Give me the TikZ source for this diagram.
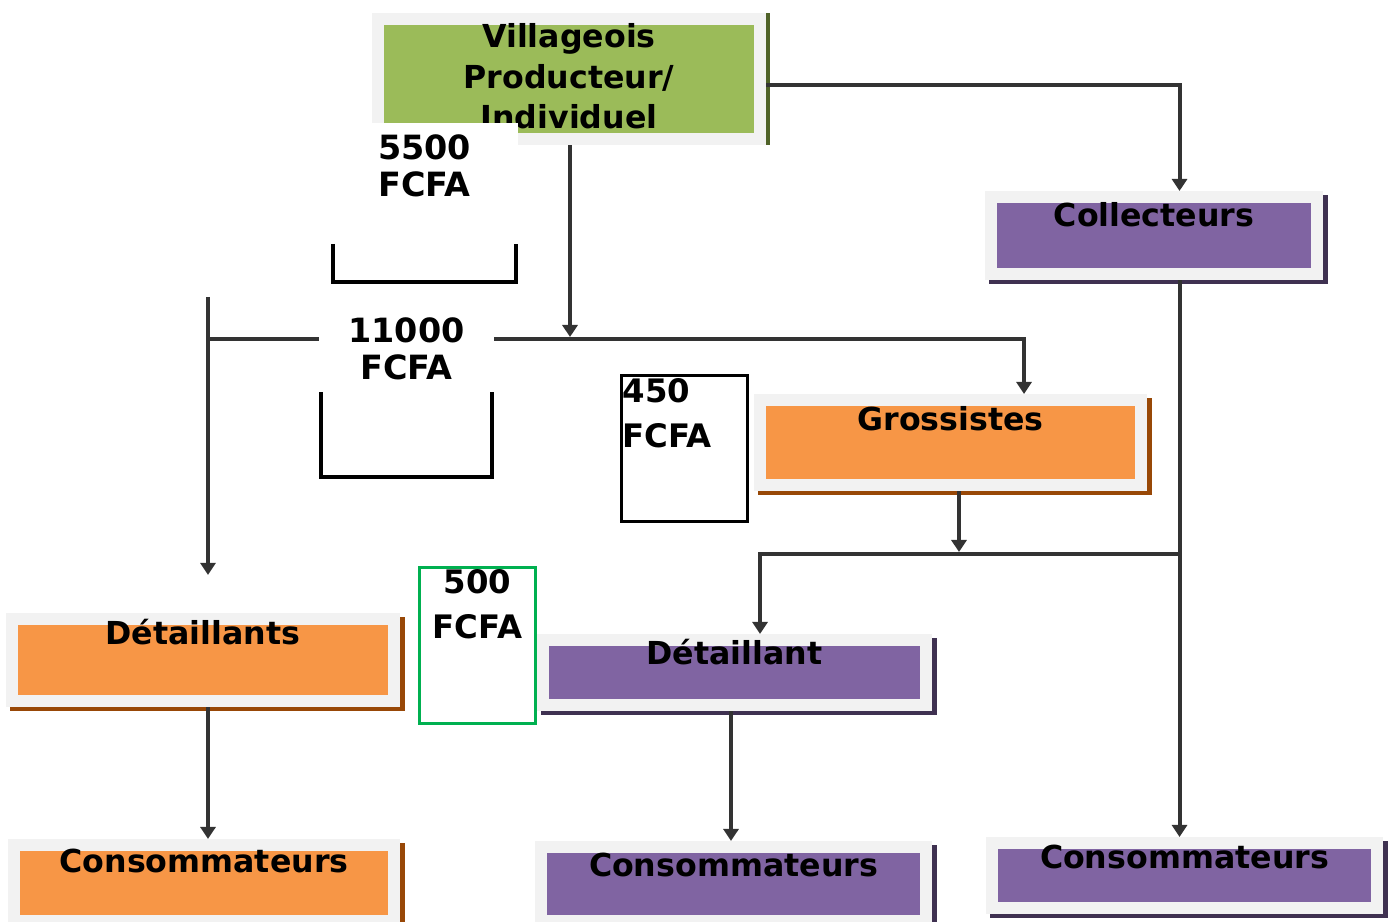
\documentclass[tikz,border=0pt]{standalone}
\usepackage{fontspec}
\setmainfont{DejaVu Sans}
\usetikzlibrary{arrows.meta,shadows}

\definecolor{vertpomme}{HTML}{9BBB59}
\definecolor{orangebox}{HTML}{F79646}
\definecolor{violetbox}{HTML}{8064A2}
\definecolor{grisfond}{HTML}{F2F2F2}
\definecolor{brunombre}{HTML}{984807}
\definecolor{violetombre}{HTML}{3F3151}
\definecolor{vertombre}{HTML}{4F6228}
\definecolor{vertcadre}{HTML}{00B050}

\tikzset{
  boite/.style={draw=grisfond, line width=0.12cm, inner sep=0pt},
  ombre/.style={drop shadow={shadow xshift=0.045cm, shadow yshift=-0.04cm,
      fill=#1, draw=#1, line width=0.12cm, opacity=1}},
  titre/.style={font=\fontsize{9}{11.5}\selectfont\bfseries, inner sep=0pt, anchor=base},
  prix/.style={font=\fontsize{9.5}{10.5}\selectfont\bfseries, align=center,
      fill=white, inner xsep=0pt, inner ysep=0.12cm, anchor=north},
  prixlarge/.style={font=\fontsize{9.2}{12.8}\selectfont\bfseries, inner sep=0pt},
  fleche/.style={draw=black!80, line width=0.04cm, -{Triangle[width=0.15cm,length=0.12cm]}},
  cadre/.style={line width=0.04cm}
}

\begin{document}
\begin{tikzpicture}
    [x=0.01cm, y=-0.01cm]
    \useasboundingbox (0,0) rectangle (1390,922);
    %boxes
    \node[boite, fill=vertpomme, minimum width=3.82cm, minimum height=1.20cm,
      drop shadow={shadow xshift=0.04cm, shadow yshift=0cm, fill=vertombre,
      draw=vertombre, line width=0.12cm, opacity=1}] (vill) at (569,79) {};
    \node[boite, fill=violetbox, ombre=violetombre, minimum width=3.26cm, minimum height=0.77cm] (coll) at (1154,235.5) {};
    \node[boite, fill=orangebox, ombre=brunombre, minimum width=3.81cm, minimum height=0.85cm] (gross) at (950.5,442.5) {};
    \node[boite, fill=orangebox, ombre=brunombre, minimum width=3.82cm, minimum height=0.82cm] (detg) at (203,660) {};
    \node[boite, fill=violetbox, ombre=violetombre, minimum width=3.83cm, minimum height=0.65cm] (detm) at (734.5,672.5) {};
    \node[boite, fill=orangebox, ombre=brunombre, minimum width=3.80cm, minimum height=0.76cm] (consg) at (204,883) {};
    \node[boite, fill=violetbox, ombre=violetombre, minimum width=3.85cm, minimum height=0.74cm] (consm) at (733.5,884) {};
    \node[boite, fill=violetbox, ombre=violetombre, minimum width=3.85cm, minimum height=0.65cm] (consd) at (1184.5,875.5) {};
    %titles
    \node[titre, anchor=north, align=center] (tvill) at ([yshift=-0.10cm]vill.north) {Villageois\\Producteur/\\Individuel};
    \node[titre] (tcoll) at ([yshift=-0.36cm]coll.north) {Collecteurs};
    \node[titre] (tgross) at ([yshift=-0.37cm]gross.north) {Grossistes};
    \node[titre] (tdetg) at ([yshift=-0.32cm]detg.north) {Détaillants};
    \node[titre] (tdetm) at ([yshift=-0.31cm]detm.north) {Détaillant};
    \node[titre] (tconsg) at ([yshift=-0.34cm]consg.north) {Consommateurs};
    \node[titre] (tconsm) at ([yshift=-0.36cm]consm.north) {Consommateurs};
    \node[titre] (tconsd) at ([yshift=-0.32cm]consd.north) {Consommateurs};
    %junctions
    \coordinate (j1) at (570,339);
    \coordinate (j2) at (959,554);
    \coordinate (hg) at (208,297);
    \coordinate (xc) at ([xshift=0.255cm]coll.south);
    \coordinate (xm) at ([xshift=-0.035cm]detm.south);
    %connectors
    \draw[fleche] ([yshift=-0.06cm]vill.east) -| ([xshift=0.255cm]coll.north);
    \draw[fleche] (vill.south -| j1) -- ([yshift=0.02cm]j1);
    \draw[fleche] (hg |- j1) -| ([xshift=0.735cm]gross.north);
    \draw[fleche, shorten >=0.38cm] (hg) -- (hg |- detg.north);
    \draw[fleche] (gross.south -| j2) -- ([yshift=0.02cm]j2);
    \draw[fleche] (xc |- j2) -| ([xshift=0.255cm]detm.north);
    \draw[fleche] (xc) -- (xc |- consd.north);
    \draw[fleche] (detg.south -| hg) -- (consg.north -| hg);
    \draw[fleche] (xm) -- (xm |- consm.north);
    %price boxes
    \draw[cadre] (333,244) -- (333,282) -- (516,282) -- (516,244);
    \draw[cadre] (321,390) -- (321,477) -- (492,477) -- (492,390);
    \node[draw, cadre, line width=0.035cm, minimum width=1.255cm, minimum height=1.455cm] (c450) at (684.5,448.5) {};
    \node[draw=vertcadre, fill=white, cadre, line width=0.035cm, minimum width=1.155cm, minimum height=1.555cm] (c500) at (477.5,645.5) {};
    \node[prix, minimum width=1.87cm] (p5500) at (424.5,122) {5500\\FCFA};
    \node[prix, minimum width=1.74cm] (p11000) at (406.5,305) {11000\\FCFA};
    \node[prixlarge, align=left, anchor=north west] (p450) at ([xshift=0.02cm, yshift=-0.04cm]c450.north west) {450\\FCFA};
    \node[prixlarge, align=center, anchor=north] (p500) at ([yshift=-0.03cm]c500.north) {500\\FCFA};
\end{tikzpicture}
\end{document}
